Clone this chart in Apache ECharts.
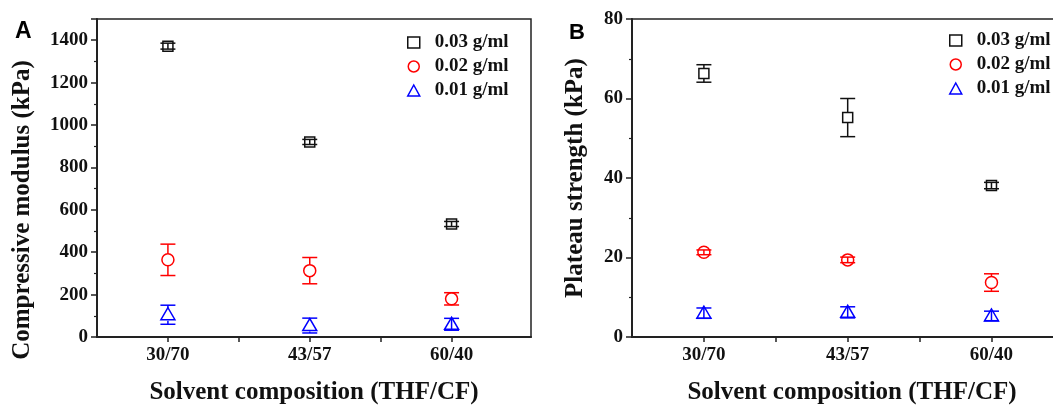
<!DOCTYPE html>
<html>
<head>
<meta charset="utf-8">
<script src="https://cdn.jsdelivr.net/npm/echarts@6/dist/echarts.min.js"></script>
<style>
  html, body { margin: 0; padding: 0; background: #fff; }
  #chart { width: 1053px; height: 405px; }
</style>
</head>
<body>
<div id="chart"></div>
<script>
// solvent composition categories (x positions 1, 2, 3)
const categories = ['30/70', '43/57', '60/40'];
const seriesNames = ['0.03 g/ml', '0.02 g/ml', '0.01 g/ml'];

// panel A: compressive modulus (kPa), mean and error
const modulus003 = [1372, 920, 533];
const modulus003Err = [14, 12, 12];
const modulus002 = [364, 313, 180];
const modulus002Err = [74, 62, 29];
const modulus001 = [105, 54, 60];
const modulus001Err = [45, 35, 28];

// panel B: plateau strength (kPa), mean and error
const strength003 = [66.3, 55.2, 38.1];
const strength003Err = [2.2, 4.8, 0.8];
const strength002 = [21.3, 19.4, 13.7];
const strength002Err = [0.6, 0.7, 2.2];
const strength001 = [6.0, 6.2, 5.3];
const strength001Err = [1.3, 1.4, 1.2];

// y-axis tick labels
const modulusTicks = [0, 200, 400, 600, 800, 1000, 1200, 1400];
const strengthTicks = [0, 20, 40, 60, 80];

const colors = ['#111111', '#ff0000', '#0000ff'];
const shapes = ['rect', 'circle', 'triangle'];
const serif = '"Liberation Serif", "Times New Roman", serif';

function toData(vals, errs) {
  return vals.map((v, i) => [i + 1, v, errs[i]]);
}

// error bar + hollow marker
function makeRender(shape, color) {
  return function (params, api) {
    const x = api.value(0), y = api.value(1), e = api.value(2);
    const c = api.coord([x, y]);
    const top = api.coord([x, y + e])[1];
    const bot = api.coord([x, y - e])[1];
    const half = shape === 'rect' ? 5 : 6;
    const ls = { stroke: color, lineWidth: 1.5 };
    const kids = [];
    if (c[1] - top > half) {
      kids.push({ type: 'line', shape: { x1: c[0], y1: top, x2: c[0], y2: c[1] - half }, style: ls });
      kids.push({ type: 'line', shape: { x1: c[0], y1: c[1] + half, x2: c[0], y2: bot }, style: ls });
    } else {
      kids.push({ type: 'line', shape: { x1: c[0], y1: top, x2: c[0], y2: bot }, style: ls });
    }
    kids.push({ type: 'line', shape: { x1: c[0] - 7.5, y1: top, x2: c[0] + 7.5, y2: top }, style: ls });
    kids.push({ type: 'line', shape: { x1: c[0] - 7.5, y1: bot, x2: c[0] + 7.5, y2: bot }, style: ls });
    const ms = { fill: 'none', stroke: color, lineWidth: 1.5 };
    if (shape === 'rect') {
      kids.push({ type: 'rect', shape: { x: c[0] - 5, y: c[1] - 5, width: 10, height: 10 }, style: ms });
    } else if (shape === 'circle') {
      kids.push({ type: 'circle', shape: { cx: c[0], cy: c[1], r: 6 }, style: ms });
    } else {
      kids.push({ type: 'polygon', shape: { points: [[c[0], c[1] - 7], [c[0] - 7, c[1] + 5], [c[0] + 7, c[1] + 5]] }, style: ms });
    }
    return { type: 'group', children: kids };
  };
}

function panelSeries(idx, list) {
  return list.map((d, k) => ({
    name: seriesNames[k],
    type: 'custom',
    xAxisIndex: idx,
    yAxisIndex: idx,
    itemStyle: { color: colors[k] },
    encode: { x: 0, y: 1 },
    renderItem: makeRender(shapes[k], colors[k]),
    data: d
  }));
}

function xAxisOpt(idx) {
  return {
    type: 'value',
    gridIndex: idx,
    min: 0.5,
    max: 3.56,
    name: 'Solvent composition (THF/CF)',
    nameLocation: 'middle',
    nameGap: 43,
    nameTextStyle: { fontFamily: serif, fontWeight: 'bold', fontSize: 25, color: '#111' },
    axisLine: { lineStyle: { color: '#222', width: 2 } },
    axisTick: { length: 5, customValues: [1, 1.5, 2, 2.5, 3], lineStyle: { color: '#222', width: 1.5 } },
    axisLabel: {
      customValues: [1, 2, 3],
      formatter: v => categories[Math.round(v) - 1],
      margin: 9,
      fontFamily: serif, fontWeight: 'bold', fontSize: 19, color: '#111'
    },
    splitLine: { show: false }
  };
}

function yAxisOpt(idx, ticks, name, gap, pad) {
  return {
    type: 'value',
    gridIndex: idx,
    min: 0,
    max: idx === 0 ? 1500 : 80,
    interval: ticks[1] - ticks[0],
    name: name,
    nameLocation: 'middle',
    nameGap: gap,
    nameTextStyle: { fontFamily: serif, fontWeight: 'bold', fontSize: 25, color: '#111', padding: pad },
    axisLine: { show: true, lineStyle: { color: '#222', width: 2 } },
    axisTick: { length: 6, lineStyle: { color: '#222', width: 1.5 } },
    minorTick: { show: true, splitNumber: 2, length: 3, lineStyle: { color: '#222', width: 1.2 } },
    axisLabel: {
      showMaxLabel: idx !== 0,
      formatter: v => String(v),
      margin: 9,
      fontFamily: serif, fontWeight: 'bold', fontSize: 19, color: '#111'
    },
    splitLine: { show: false }
  };
}

// icon box 12 wide, text pushed so it starts 27px right of the icon centre
function legendOpt(iconCenter, top) {
  return {
    orient: 'vertical',
    left: iconCenter - 6,
    top: top,
    itemWidth: 12,
    itemHeight: 11,
    itemGap: 5,
    selectedMode: false,
    textStyle: { fontFamily: serif, fontWeight: 'bold', fontSize: 19, color: '#111', padding: [0, 0, 0, 10] },
    data: seriesNames.map((n, k) => ({
      name: n,
      icon: shapes[k],
      itemStyle: { color: 'transparent', borderColor: colors[k], borderWidth: 1.5 }
    }))
  };
}

const chart = echarts.init(document.getElementById('chart'));
chart.setOption({
  animation: false,
  backgroundColor: '#fff',
  graphic: [
    { type: 'text', left: 15, top: 20, style: { text: 'A', fontFamily: '"Liberation Sans", Arial, sans-serif', fontWeight: 'bold', fontSize: 23, fill: '#000' } },
    { type: 'text', left: 569, top: 22, style: { text: 'B', fontFamily: '"Liberation Sans", Arial, sans-serif', fontWeight: 'bold', fontSize: 22, fill: '#000' } }
  ],
  grid: [
    { left: 97, top: 19, width: 434, height: 318, outerBoundsMode: 'none', containLabel: false, show: true, borderColor: '#222', borderWidth: 1.5 },
    { left: 632, top: 19, width: 440, height: 318, outerBoundsMode: 'none', containLabel: false, show: true, borderColor: '#222', borderWidth: 1.5 }
  ],
  legend: [legendOpt(408, 28), legendOpt(950, 26)],
  xAxis: [xAxisOpt(0), xAxisOpt(1)],
  yAxis: [
    yAxisOpt(0, modulusTicks, 'Compressive modulus (kPa)', 62, [0, 64, 0, 0]),
    yAxisOpt(1, strengthTicks, 'Plateau strength (kPa)', 44, [0, 0, 0, 0])
  ],
  series: [].concat(
    panelSeries(0, [
      toData(modulus003, modulus003Err),
      toData(modulus002, modulus002Err),
      toData(modulus001, modulus001Err)
    ]),
    panelSeries(1, [
      toData(strength003, strength003Err),
      toData(strength002, strength002Err),
      toData(strength001, strength001Err)
    ])
  )
});
</script>
</body>
</html>
